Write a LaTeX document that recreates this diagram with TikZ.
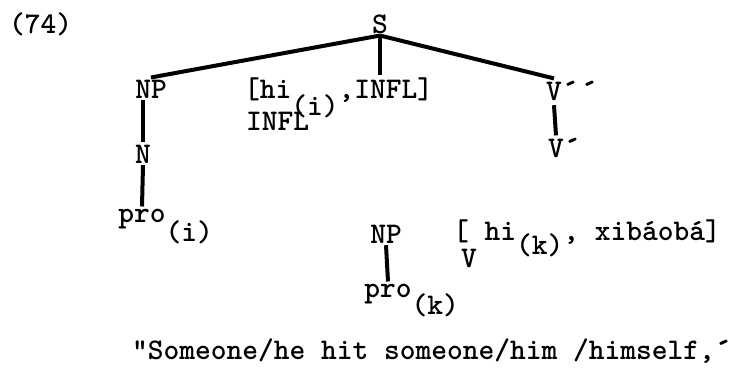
\documentclass[tikz,border=0pt]{standalone}
\usepackage{tikz}

\newcommand{\tick}{\raisebox{-3bp}{\scalebox{1.2}{´}}}

\begin{document}
\begin{tikzpicture}
[
x=1bp, y=-1bp,
every node/.style={inner sep=2bp, font=\fontsize{30bp}{36bp}\ttfamily\bfseries},
branch/.style={line width=4bp}
]
\useasboundingbox (0,0) rectangle (733,371);

\node[anchor=base west] (exnum) at (7,33) {(74)};
\node[anchor=base] (S) at (380,33) {S};
\node[anchor=base] (NPa) at (151,98) {NP};
\node[anchor=base west] (infl) at (242,98) {[hi\raisebox{-17bp}{(i)},INFL]};
\node[anchor=base west] (inflcat) at (244,130) {INFL};
\node[anchor=base] (Vbar) at (554,100) {V\rlap{\tick\tick}};
\node[anchor=base] (Vprime) at (556,157) {V\rlap{\tick}};
\node[anchor=base] (N) at (143,163) {N};
\node[anchor=base] (proi) at (142,222) {pro\rlap{\raisebox{-19bp}{(i)}}};
\node[anchor=base] (NPb) at (386,243) {NP};
\node[anchor=base] (prok) at (388,297) {pro\rlap{\raisebox{-17bp}{(k)}}};
\node[anchor=base west] (vhead) at (451,240) {[ hi\raisebox{-14bp}{(k)}, xibáobá]};
\node[anchor=base west] (vcat) at (459,267) {V};
\node[anchor=base west] (gloss) at (130,359) {"Someone/he hit someone/him /himself,\tick};

\draw[branch] (S.south) -- (NPa.north);
\draw[branch] (S.south) -- (S.south |- infl.north);
\draw[branch] (S.south) -- (Vbar.north);
\draw[branch] (NPa.south -| N) -- (N.north);
\draw[branch] (N.south) -- (proi.north);
\draw[branch] (Vbar.south) -- (Vprime.north);
\draw[branch] (NPb.south) -- (prok.north);
\end{tikzpicture}
\end{document}
